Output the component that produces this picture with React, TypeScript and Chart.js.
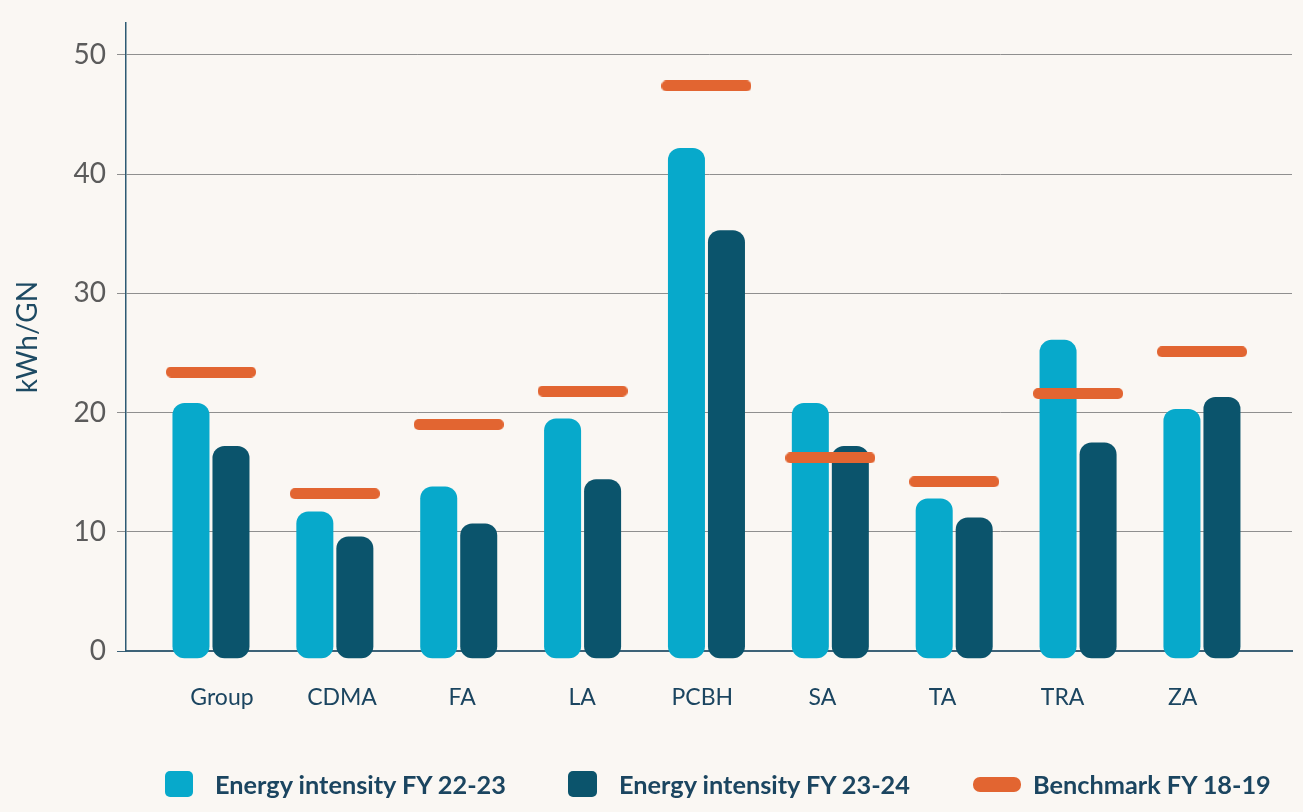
import { useEffect, useRef } from 'react';
import { Chart, registerables } from 'chart.js';

Chart.register(...registerables);

const CATEGORIES = ['Group', 'CDMA', 'FA', 'LA', 'PCBH', 'SA', 'TA', 'TRA', 'ZA'];
const FY2223 = [20.8, 11.7, 13.8, 19.5, 42.2, 20.8, 12.8, 26.1, 20.3];
const FY2324 = [17.2, 9.6, 10.7, 14.4, 35.3, 17.2, 11.2, 17.5, 21.3];
const BENCHMARK = [23.4, 13.2, 19.0, 21.8, 47.4, 16.2, 14.2, 21.6, 25.1];
const Y_TICKS = [0, 10, 20, 30, 40, 50];
const SERIES_NAMES = ['Energy intensity FY 22-23', 'Energy intensity FY 23-24', 'Benchmark FY 18-19'];

const LIGHT = '#07a9cb';
const DARK = '#0b546c';
const ORANGE = '#e26531';
const BG = '#faf7f3';
const TEXT_DARK = '#1b4560';

function pill(w: number, h: number, r: number, color: string): HTMLCanvasElement {
  const c = document.createElement('canvas');
  c.width = w;
  c.height = h;
  const ctx = c.getContext('2d')!;
  ctx.fillStyle = color;
  ctx.beginPath();
  ctx.moveTo(r, 0);
  ctx.lineTo(w - r, 0);
  ctx.arcTo(w, 0, w, r, r);
  ctx.lineTo(w, h - r);
  ctx.arcTo(w, h, w - r, h, r);
  ctx.lineTo(r, h);
  ctx.arcTo(0, h, 0, h - r, r);
  ctx.lineTo(0, r);
  ctx.arcTo(0, 0, r, 0, r);
  ctx.closePath();
  ctx.fill();
  return c;
}

const bgPlugin = {
  id: 'bg',
  beforeDraw(chart: any) {
    const { ctx, width, height } = chart;
    ctx.save();
    ctx.fillStyle = BG;
    ctx.fillRect(0, 0, width, height);
    ctx.restore();
  },
};

const LEGEND_SWATCHES = [
  { color: LIGHT, w: 28, h: 26, r: 5, itemWidth: 403, gap: 22 },
  { color: DARK, w: 29, h: 26, r: 5, itemWidth: 405, gap: 22 },
  { color: ORANGE, w: 48, h: 15, r: 7, itemWidth: 300, gap: 12 },
];

const noSidePadding = (s: any) => {
  s.paddingLeft = 0;
  s.paddingRight = 0;
};

export default function App() {
  const ref = useRef<HTMLCanvasElement | null>(null);

  useEffect(() => {
    document.body.style.margin = '0';
    document.body.style.background = BG;
    if (!ref.current) return;

    const benchMark = pill(90, 11, 5, ORANGE);

    const barCommon = {
      type: 'bar',
      borderRadius: 12,
      borderSkipped: false,
      base: -0.6,
      barPercentage: 0.925,
      categoryPercentage: 0.646,
      clip: false,
      order: 2,
      xAxisID: 'x',
      yAxisID: 'y',
    };

    const chart = new Chart(ref.current, {
      type: 'bar',
      data: {
        datasets: [
          {
            ...barCommon,
            label: SERIES_NAMES[0],
            data: FY2223.map((v, i) => ({ x: i, y: v })),
            backgroundColor: LIGHT,
          } as any,
          {
            ...barCommon,
            label: SERIES_NAMES[1],
            data: FY2324.map((v, i) => ({ x: i, y: v })),
            backgroundColor: DARK,
          } as any,
          {
            type: 'line',
            label: SERIES_NAMES[2],
            data: BENCHMARK.map((v, i) => ({ x: i, y: v })),
            showLine: false,
            pointStyle: benchMark,
            pointRadius: 10,
            pointHoverRadius: 10,
            clip: false,
            order: 1,
            xAxisID: 'x',
            yAxisID: 'y',
          } as any,
        ],
      },
      options: {
        animation: false,
        responsive: true,
        maintainAspectRatio: false,
        layout: { padding: { top: 23, left: 0, right: 0, bottom: 91 } },
        plugins: {
          tooltip: { enabled: false },
          legend: { display: false },
        },
        scales: {
          x: {
            type: 'linear',
            display: false,
            offset: false,
            min: -0.686,
            max: 8.727,
            afterBuildTicks: (s: any) => {
              s.ticks = CATEGORIES.map((_, i) => ({ value: i }));
            },
            afterFit: noSidePadding,
          },
          x2: {
            type: 'linear',
            position: 'bottom',
            offset: false,
            min: -0.799,
            max: 8.91,
            afterBuildTicks: (s: any) => {
              s.ticks = CATEGORIES.map((_, i) => ({ value: i }));
            },
            afterFit: (s: any) => {
              s.height = 70;
              noSidePadding(s);
            },
            ticks: {
              autoSkip: false,
              maxRotation: 0,
              padding: 33,
              font: { family: 'Lato', size: 23 },
              color: TEXT_DARK,
              callback: (_v: any, i: number) => CATEGORIES[i],
            },
            grid: { display: false, drawTicks: false },
            border: { display: true, color: '#3d6277', width: 2 },
          },
          y: {
            type: 'linear',
            min: 0,
            max: 52.68,
            afterBuildTicks: (s: any) => {
              s.ticks = Y_TICKS.map((v) => ({ value: v }));
            },
            afterFit: (s: any) => {
              s.width = 126;
              s.paddingTop = 0;
              s.paddingBottom = 0;
              noSidePadding(s);
            },
            ticks: {
              padding: 11,
              font: { family: 'Lato', size: 28 },
              color: '#5b5b5b',
            },
            grid: {
              color: (c: any) => (c.tick && c.tick.value === 0 ? '#3d6277' : '#8f8f8f'),
              lineWidth: 1,
              tickLength: 9,
              drawTicks: true,
            },
            border: { color: '#2d5a73', width: 1.5 },
            title: {
              display: true,
              text: 'kWh/GN',
              font: { family: 'Lato', size: 28 },
              color: '#1d4a63',
              padding: { top: 11, bottom: 0 },
            },
          },
        },
      },
      plugins: [bgPlugin],
    } as any);

    return () => chart.destroy();
  }, []);

  return (
    <div style={{ width: 1303, height: 812, position: 'relative', background: BG }}>
      <canvas ref={ref} />
      <div
        style={{
          position: 'absolute',
          left: 165,
          top: 771,
          height: 26,
          display: 'flex',
          alignItems: 'center',
          fontFamily: 'Lato',
          fontWeight: 'bold',
          fontSize: 25.3,
          color: TEXT_DARK,
          whiteSpace: 'nowrap',
        }}
      >
        {SERIES_NAMES.map((name, i) => {
          const s = LEGEND_SWATCHES[i];
          return (
            <div key={name} style={{ display: 'flex', alignItems: 'center', width: s.itemWidth }}>
              <div
                style={{
                  width: s.w,
                  height: s.h,
                  borderRadius: s.r,
                  background: s.color,
                  marginRight: s.gap,
                  flex: 'none',
                }}
              />
              <span style={{ lineHeight: '26px' }}>{name}</span>
            </div>
          );
        })}
      </div>
    </div>
  );
}
